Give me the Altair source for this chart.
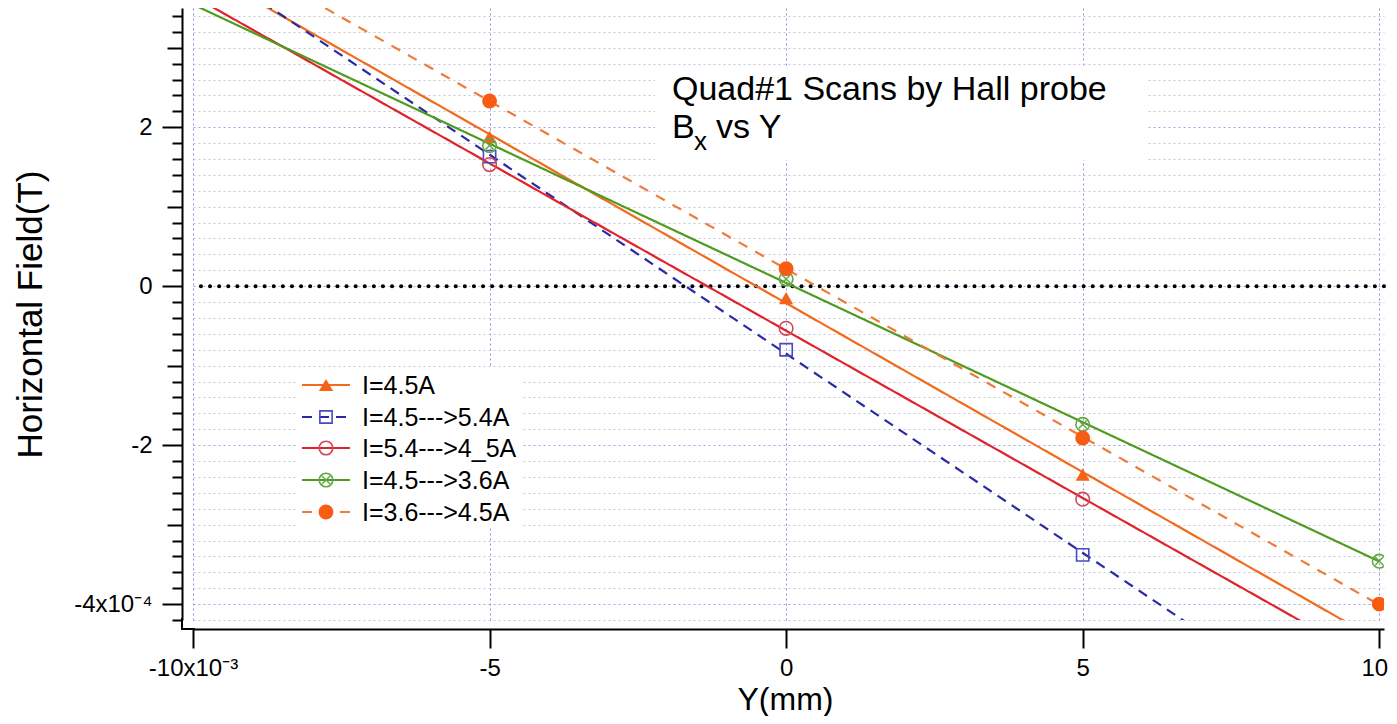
import altair as alt
import pandas as pd

# ---------------- data ----------------
series_names = ["I=4.5A", "I=4.5--->5.4A", "I=5.4--->4_5A", "I=4.5--->3.6A", "I=3.6--->4.5A"]
y_mm_4p5 = [-5, 0, 5]
bx_4p5 = [1.88, -0.15, -2.37]
y_mm_4p5_5p4 = [-5, 0, 5]
bx_4p5_5p4 = [1.63, -0.80, -3.38]
y_mm_5p4_4p5 = [-5, 0, 5]
bx_5p4_4p5 = [1.53, -0.53, -2.68]
y_mm_4p5_3p6 = [-5, 0, 5, 10]
bx_4p5_3p6 = [1.77, 0.09, -1.74, -3.46]
y_mm_3p6_4p5 = [-5, 0, 5, 10]
bx_3p6_4p5 = [2.33, 0.22, -1.91, -4.00]

x_tick_values = [-10, -5, 0, 5, 10]
x_tick_labels = ["-10x10⁻³", "-5", "0", "5", "10"]
y_label_values = [2, 0, -2, -4]
y_label_texts = ["2", "0", "-2", "-4x10⁻⁴"]
y_minor_ticks = [round(-4.2 + 0.2 * i, 1) for i in range(39)]

title_line1 = "Quad#1 Scans by Hall probe"
title_line2_main = "B"
title_line2_sub = "x"
title_line2_rest = "vs Y"
x_title = "Y(mm)"
y_title = "Horizontal Field(T)"

# ---------------- styles ----------------
line_colors = ["#f26a1b", "#2a2aa8", "#e0232b", "#4f9b1f", "#f07a3a"]
marker_colors = ["#f5621a", "#4a4ac0", "#d04858", "#62a842", "#f85c12"]
line_dashes = [[1, 0], [10, 7], [1, 0], [1, 0], [10, 9]]
marker_specs = [
    dict(shape="triangle-up", filled=True, size=200, strokeWidth=1),
    dict(shape="square", filled=False, size=150, strokeWidth=1.6),
    dict(shape="circle", filled=False, size=185, strokeWidth=1.6),
    dict(shape="circle", filled=False, size=185, strokeWidth=1.6),
    dict(shape="circle", filled=True, size=220, strokeWidth=1),
]
cross_path = "M-0.6,-0.6L0.6,0.6M0.6,-0.6L-0.6,0.6"

FONT = "Liberation Sans"
X_DOMAIN = [-10, 10.08]
Y_DOMAIN = [-4.2, 3.5]
W, H = 1191, 612
X_OFF, Y_OFF = 9, 11

rows = []
for name, xs, ys in zip(
    series_names,
    [y_mm_4p5, y_mm_4p5_5p4, y_mm_5p4_4p5, y_mm_4p5_3p6, y_mm_3p6_4p5],
    [bx_4p5, bx_4p5_5p4, bx_5p4_4p5, bx_4p5_3p6, bx_3p6_4p5],
):
    for xv, yv in zip(xs, ys):
        rows.append({"series": name, "y_mm": xv, "bx": yv})
df = pd.DataFrame(rows)


def label_expr(vals, labels):
    expr = "''"
    for v, l in reversed(list(zip(vals, labels))):
        expr = f"datum.value == {v} ? '{l}' : {expr}"
    return expr


even_test = "abs(round(datum.value*5)) % 10 == 0"
int_test = "abs(round(datum.value*5)) % 5 == 0"

x_axis = alt.Axis(
    values=x_tick_values,
    labelExpr=label_expr(x_tick_values, x_tick_labels),
    title=x_title,
    titleFont=FONT, titleFontSize=32, titleFontWeight="normal", titleColor="black",
    titleX=592, titleY=80, titleBaseline="alphabetic", titleAlign="center",
    labelFont=FONT, labelFontSize=24, labelColor="black", labelPadding=8,
    labelFlush=False, labelOverlap=False,
    labelOffset={"condition": {"test": "datum.value == 10", "value": -5}, "value": 0},
    tickSize=19, tickWidth=2, tickColor="black",
    domainColor="black", domainWidth=2,
    offset=X_OFF,
    grid=True, gridColor="#8c8ce0", gridDash=[2, 3], gridWidth=1,
)
y_axis = alt.Axis(
    values=y_minor_ticks,
    labelExpr=label_expr(y_label_values, y_label_texts),
    title=y_title,
    titleFont=FONT, titleFontSize=35, titleFontWeight="normal", titleColor="black",
    titleAngle=270, titleX=-152, titleY=306, titleAlign="center", titleBaseline="middle",
    labelFont=FONT, labelFontSize=24, labelColor="black", labelPadding=10,
    labelFlush=False, labelOverlap=False,
    tickSize={"condition": [{"test": even_test, "value": 20}, {"test": int_test, "value": 15}], "value": 10},
    tickWidth=2, tickColor="black",
    domainColor="black", domainWidth=2,
    offset=Y_OFF,
    grid=True,
    gridColor={"condition": {"test": even_test, "value": "#a4a4e4"}, "value": "#c6c6d6"},
    gridDash=[2, 3], gridWidth=1,
)

x_enc = alt.X("y_mm:Q", scale=alt.Scale(domain=X_DOMAIN, nice=False, zero=False), axis=x_axis)
y_enc = alt.Y("bx:Q", scale=alt.Scale(domain=Y_DOMAIN, nice=False, zero=False), axis=y_axis)

color_scale = alt.Scale(domain=series_names, range=line_colors)
dash_scale = alt.Scale(domain=series_names, range=line_dashes)

# fitted lines (least squares per series)
fits = (
    alt.Chart(df)
    .transform_regression("y_mm", "bx", groupby=["series"], extent=[-10, 10])
    .mark_line(strokeWidth=2.2, clip=True)
    .encode(
        x=x_enc, y=y_enc,
        color=alt.Color("series:N", scale=color_scale, legend=None),
        strokeDash=alt.StrokeDash("series:N", scale=dash_scale, legend=None),
    )
)

zero_line = (
    alt.Chart(pd.DataFrame({"bx": [0]}))
    .mark_rule(color="black", strokeWidth=4, strokeDash=[0.1, 9], strokeCap="round")
    .encode(y=y_enc)
)

box_df = pd.DataFrame({"box": ["frame"]})
# corner where the offset axes meet
corner = [
    alt.Chart(box_df).mark_rule(color="black", strokeWidth=2).encode(
        x=alt.value(-Y_OFF), y=alt.value(H - 2), y2=alt.value(H + X_OFF + 1)
    ),
    alt.Chart(box_df).mark_rule(color="black", strokeWidth=2).encode(
        x=alt.value(-Y_OFF - 1), x2=alt.value(2), y=alt.value(H + X_OFF)
    ),
]

layers = [zero_line, fits] + corner

for name, col, spec in zip(series_names, marker_colors, marker_specs):
    layers.append(
        alt.Chart(df)
        .transform_filter(alt.datum.series == name)
        .mark_point(color=col, opacity=1, clip=True, **spec)
        .encode(x=x_enc, y=y_enc)
    )
layers.append(
    alt.Chart(df)
    .transform_filter(alt.datum.series == series_names[3])
    .mark_point(shape=cross_path, filled=False, size=185, strokeWidth=1.4, color=marker_colors[3], opacity=1)
    .encode(x=x_enc, y=y_enc)
)

# ---------------- legend ----------------
layers.append(
    alt.Chart(box_df).mark_rect(color="white").encode(
        x=alt.value(105), x2=alt.value(328), y=alt.value(359), y2=alt.value(520)
    )
)
legend_df = pd.DataFrame({"series": series_names})
legend_rows_y = [377, 409, 440, 472, 504]
for i, (name, col, spec) in enumerate(zip(series_names, marker_colors, marker_specs)):
    base = alt.Chart(legend_df).transform_filter(alt.datum.series == name)
    ry = legend_rows_y[i]
    layers.append(
        base.mark_rule(strokeWidth=2.2).encode(
            x=alt.value(109), x2=alt.value(157), y=alt.value(ry),
            color=alt.Color("series:N", scale=color_scale, legend=None),
            strokeDash=alt.StrokeDash("series:N", scale=dash_scale, legend=None),
        )
    )
    layers.append(
        base.mark_point(color=col, opacity=1, **spec).encode(x=alt.value(133), y=alt.value(ry))
    )
    if i == 3:
        layers.append(
            base.mark_point(shape=cross_path, filled=False, size=185, strokeWidth=1.4,
                            color=col, opacity=1).encode(x=alt.value(133), y=alt.value(ry))
        )
    layers.append(
        base.mark_text(align="left", baseline="middle", font=FONT, fontSize=25, color="black")
        .encode(x=alt.value(169), y=alt.value(ry + 1), text="series:N")
    )

# ---------------- annotation title ----------------
layers.append(
    alt.Chart(box_df).mark_rect(color="white").encode(
        x=alt.value(462), x2=alt.value(955), y=alt.value(58), y2=alt.value(152)
    )
)
title_df = pd.DataFrame({"l1": [title_line1], "b": [title_line2_main],
                         "s": [title_line2_sub], "r": [title_line2_rest]})
tbase = alt.Chart(title_df)
layers += [
    tbase.mark_text(align="left", baseline="alphabetic", font=FONT, fontSize=34, color="black")
    .encode(x=alt.value(479), y=alt.value(92), text="l1:N"),
    tbase.mark_text(align="left", baseline="alphabetic", font=FONT, fontSize=34, color="black")
    .encode(x=alt.value(479), y=alt.value(130), text="b:N"),
    tbase.mark_text(align="left", baseline="alphabetic", font=FONT, fontSize=26, color="black")
    .encode(x=alt.value(501), y=alt.value(142), text="s:N"),
    tbase.mark_text(align="left", baseline="alphabetic", font=FONT, fontSize=34, color="black")
    .encode(x=alt.value(523), y=alt.value(130), text="r:N"),
]

chart = (
    alt.layer(*layers)
    .properties(
        width=W, height=H,
        autosize=alt.AutoSizeParams(type="none"),
        padding={"left": 185, "top": 0, "right": 5, "bottom": 96},
        background="white",
    )
    .configure_view(stroke=None)
)

chart.save("out.html", embed_options={"renderer": "svg", "actions": False})
